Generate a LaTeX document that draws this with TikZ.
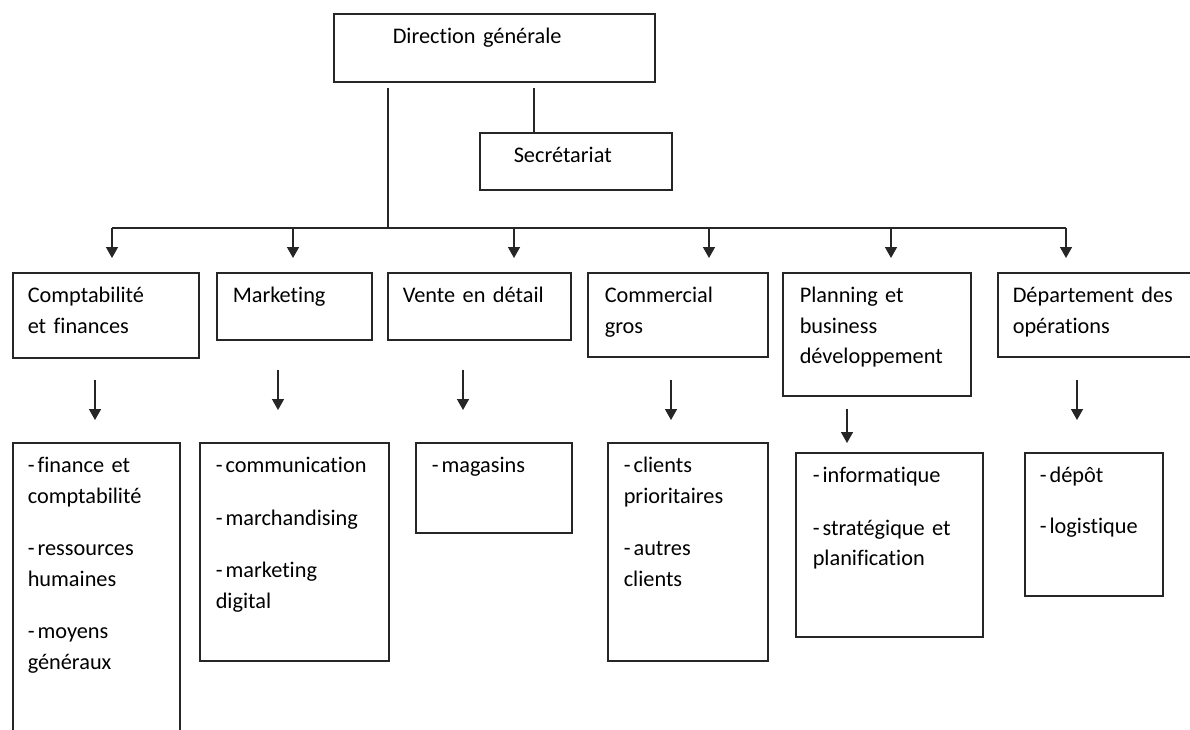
\documentclass[tikz,border=0pt]{standalone}
\usepackage{fontspec}
\setmainfont{Carlito}[Ligatures=NoCommon]
\usepackage{tikz}
\usetikzlibrary{arrows.meta}
\newcommand{\itm}{-\hspace{3pt}}

\begin{document}
\begin{tikzpicture}[x={(1pt,0pt)}, y={(0pt,-1pt)},
        unit/.style={draw=black!85, line width=1.5pt, anchor=north west, align=left,
            inner xsep=15pt, inner ysep=0pt, text height=30pt,
            font=\fontsize{22.3pt}{30.5pt}\selectfont},
        link/.style={draw=black!85, line width=1.5pt},
        arr/.style={link, -{Triangle[width=12pt,length=11pt]}}]
        \useasboundingbox (0,0) rectangle (1190,729);
        \clip (0,0) rectangle (1190,729);
        \node[unit, inner xsep=59pt, text width=203pt, text depth=38pt] (dg) at (333,13) {Direction générale};
        \node[unit, inner xsep=34pt, text width=124pt, text depth=27pt] (sec) at (479,132) {Secrétariat};
        \node[unit, text width=156pt, text depth=55pt] (compta) at (12,272) {Comptabilité\\et finances};
        \node[unit, inner xsep=16pt, text width=123pt, text depth=37pt] (mkt) at (216,272) {Marketing};
        \node[unit, text width=153pt, text depth=37pt] (vente) at (387,272) {Vente en détail};
        \node[unit, inner xsep=17pt, text width=146pt, text depth=54pt] (comm) at (587,272) {Commercial\\gros};
        \node[unit, inner xsep=17pt, text width=154pt, text depth=93pt] (plan) at (782,272) {Planning et\\business\\développement};
        \node[unit, text width=180pt, text depth=54pt] (dept) at (997,272) {Département des\\opérations};
        \node[unit, text width=137pt, text depth=280pt] (s-compta) at (12,442)
            {\itm finance et\\comptabilité\\[22pt]\itm ressources\\humaines\\[22pt]\itm moyens\\généraux};
        \node[unit, inner xsep=16pt, text width=157pt, text depth=188pt] (s-mkt) at (199,442)
            {\itm communication\\[22pt]\itm marchandising\\[22pt]\itm marketing\\digital};
        \node[unit, inner xsep=16pt, text width=124pt, text depth=60pt] (s-vente) at (415,442) {\itm magasins};
        \node[unit, inner xsep=16pt, text width=128pt, text depth=188pt] (s-comm) at (607,442)
            {\itm clients\\prioritaires\\[22pt]\itm autres\\clients};
        \node[unit, inner xsep=17pt, text width=153pt, text depth=154pt] (s-plan) at (795,452)
            {\itm informatique\\[22pt]\itm stratégique et\\planification};
        \node[unit, text width=108pt, text depth=113pt] (s-dept) at (1024,452) {\itm dépôt\\[20pt]\itm logistique};

        \coordinate (hub) at (388,228);
        \draw[link, shorten <=5pt] (hub |- dg.south) -- (hub);
        \draw[link, shorten <=5pt] ([xshift=55pt]sec.north west |- dg.south) -- ([xshift=55pt]sec.north west);
        \draw[link] ([xshift=100pt]compta.north west |- hub) -- ([xshift=69pt]dept.north west |- hub);
        \foreach \n/\dx in {compta/100, mkt/77, vente/127, comm/122, plan/109, dept/69}
            \draw[arr, shorten >=14pt] ([xshift=\dx pt]\n.north west |- hub) -- ([xshift=\dx pt]\n.north west);
        \foreach \p/\c/\dx/\gin/\gout in {compta/s-compta/83/21/22, mkt/s-mkt/62/29/32, vente/s-vente/76/29/32,
                comm/s-comm/84/22/22, plan/s-plan/65/12/9, dept/s-dept/80/22/32}
            \draw[arr, shorten <=\gin pt, shorten >=\gout pt] ([xshift=\dx pt]\p.south west) -- ([xshift=\dx pt]\p.south west |- \c.north);
    \end{tikzpicture}
\end{document}
